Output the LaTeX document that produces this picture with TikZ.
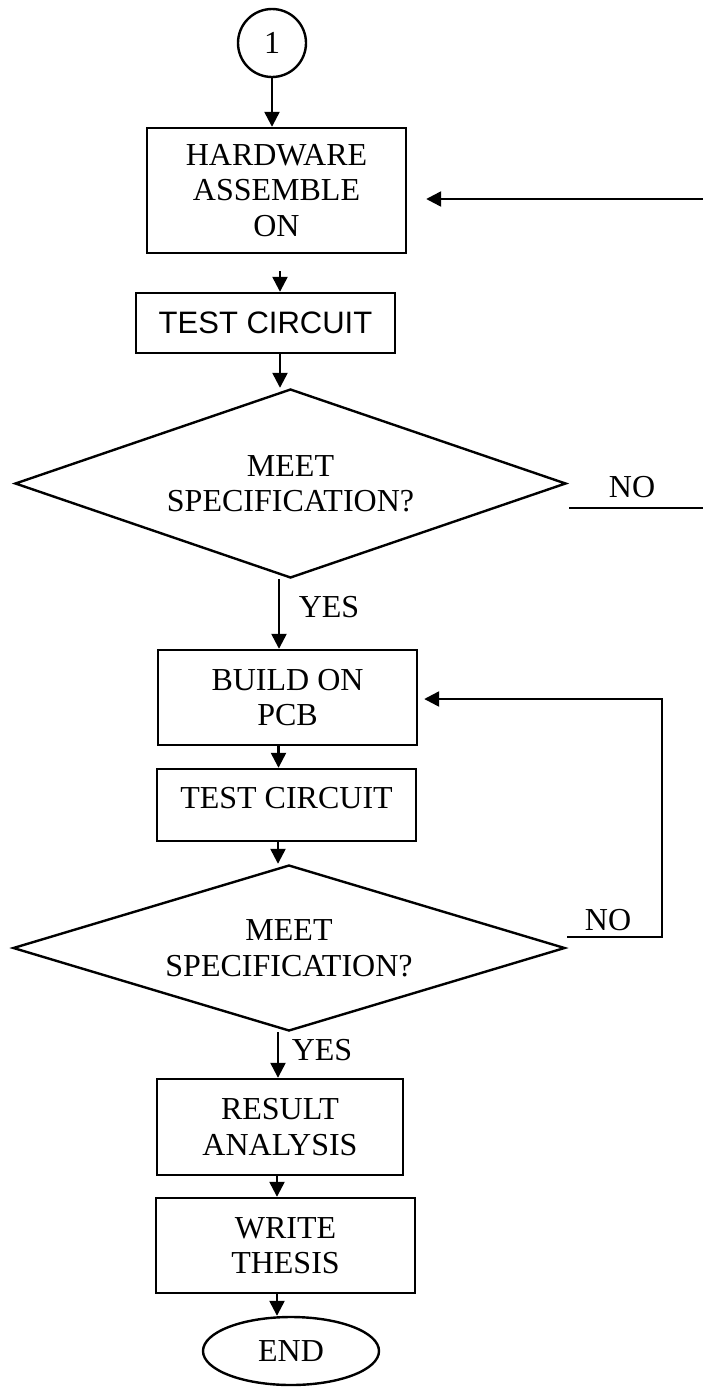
\documentclass[tikz,border=0pt]{standalone}
\usepackage{fontspec}
\setmainfont{Liberation Serif}
\newfontfamily\arialfont{Liberation Sans}
\usetikzlibrary{arrows.meta,shapes.geometric}

\begin{document}
\begin{tikzpicture}[x=1pt,y=-1pt,line width=2.4pt,
  every node/.style={font=\fontsize{32}{35.5}\selectfont,inner sep=0pt},
  stepbox/.style={draw,rectangle,align=center,minimum width=259},
  decision/.style={draw,diamond,aspect=3,align=center,minimum width=551},
  terminal/.style={draw,ellipse},
  connector/.style={draw,circle,minimum size=68},
  flow/.style={-{Triangle[width=15pt,length=15pt]}}]

\useasboundingbox (0,0) rectangle (702,1387);

% process chain
\node[connector] (c1) at (272,43) {1};
\node[stepbox,minimum height=125] (hw) at (276.5,190.5) {HARDWARE\\ASSEMBLE\\ON};
\node[stepbox,minimum height=60,font=\arialfont\fontsize{31}{35}\selectfont] (t1) at (265.5,323) {TEST CIRCUIT};
\node[decision,minimum height=189] (d1) at (290.5,483.5) {MEET\\SPECIFICATION?};
\node[stepbox,minimum height=95] (pcb) at (287.5,697.5) {BUILD ON\\PCB};
\node[stepbox,minimum height=72,text depth=15pt] (t2) at (286.5,805) {TEST CIRCUIT};
\node[decision,minimum width=552,minimum height=166] (d2) at (289,948) {MEET\\SPECIFICATION?};
\node[stepbox,minimum width=246,minimum height=96] (res) at (280,1127) {RESULT\\ANALYSIS};
\node[stepbox,minimum height=95] (wt) at (285.5,1245.5) {WRITE\\THESIS};
\node[terminal,minimum width=176,minimum height=68] (end) at (291,1351) {END};

% branch labels
\node (yes1) at (329,607.5) {YES};
\node (yes2) at (322,1050.5) {YES};
\node (no1) at (632,487) {NO};
\node (no2) at (608,920) {NO};

% main flow
\draw[flow] (c1.south) -- (c1.south |- hw.north);
\draw[flow,shorten <=17pt] ([xshift=3.5pt]hw.south) -- ([xshift=3.5pt]hw.south |- t1.north);
\draw[flow] ([xshift=14.5pt]t1.south) -- ([xshift=14.5pt]t1.south |- d1.north);
\draw[flow] ([xshift=-11.5pt]d1.south) -- ([xshift=-11.5pt]d1.south |- pcb.north);
\draw[flow] ([xshift=-9pt]pcb.south) -- ([xshift=-9pt]pcb.south |- t2.north);
\draw[flow] ([xshift=-8.5pt]t2.south) -- ([xshift=-8.5pt]t2.south |- d2.north);
\draw[flow] ([xshift=-11pt]d2.south) -- ([xshift=-11pt]d2.south |- res.north);
\draw[flow] ([xshift=-3pt]res.south) -- ([xshift=-3pt]res.south |- wt.north);
\draw[flow] ([xshift=-8.5pt]wt.south) -- ([xshift=-8.5pt]wt.south |- end.north);

% loop back from the first check (runs past the right edge)
\coordinate (r1) at ([xshift=2pt,yshift=-24.5pt]d1.east);
\coordinate (r1edge) at (712,508);
\draw[flow] (r1) -- (r1edge) |- ([xshift=19pt,yshift=-8.5pt]hw.east);

% loop back from the second check
\coordinate (r2) at ([xshift=1pt,yshift=11pt]d2.east);
\coordinate (r2turn) at (662,937);
\draw[flow] (r2) -- (r2turn) |- ([xshift=6pt,yshift=-1.5pt]pcb.east);

\end{tikzpicture}
\end{document}
